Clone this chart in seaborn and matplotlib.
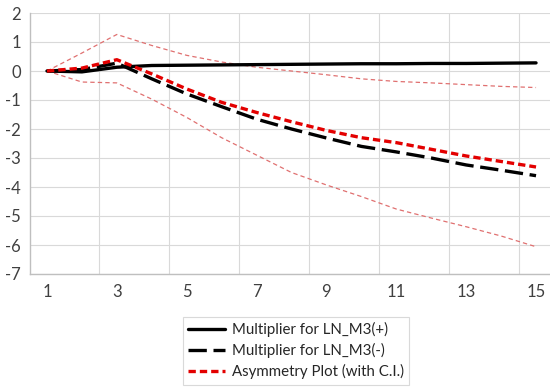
import matplotlib
matplotlib.use("Agg")
import matplotlib.pyplot as plt
import seaborn as sns
import numpy as np
from matplotlib.lines import Line2D

horizon = list(range(1, 16))
mult_pos = [0, -0.03, 0.13, 0.19, 0.20, 0.21, 0.22, 0.23, 0.24, 0.25, 0.25, 0.26, 0.26, 0.27, 0.28]
mult_neg = [0, 0.05, 0.27, -0.27, -0.79, -1.23, -1.66, -2.00, -2.31, -2.60, -2.79, -3.00, -3.24, -3.42, -3.61]
asym = [0, 0.10, 0.39, -0.10, -0.62, -1.08, -1.43, -1.75, -2.05, -2.30, -2.47, -2.70, -2.93, -3.12, -3.31]
ci_upper = [0, 0.62, 1.26, 0.88, 0.54, 0.31, 0.13, 0.0, -0.13, -0.27, -0.36, -0.41, -0.47, -0.53, -0.57]
ci_lower = [0, -0.38, -0.41, -0.97, -1.60, -2.30, -2.90, -3.50, -3.93, -4.33, -4.76, -5.07, -5.37, -5.69, -6.06]
xticks = [1, 3, 5, 7, 9, 11, 13, 15]
yticks = list(range(-7, 3))
labels = ["Multiplier for LN_M3(+)", "Multiplier for LN_M3(-)", "Asymmetry Plot (with C.I.)"]

sns.set_style("white")
plt.rcParams['font.family'] = ['Lato', 'DejaVu Sans']

fig = plt.figure(figsize=(5.5, 3.87), dpi=100)
ax = fig.add_axes([29.5/550, 1-274/387, 524/550, 261/387])

grid_c = "#d9d9d9"
for yv in yticks:
    ax.axhline(yv, color=grid_c, lw=0.8, zorder=0)
for xv in np.arange(2.5, 15.5, 2):
    ax.axvline(xv, color=grid_c, lw=0.8, zorder=0)

ci_color = "#e07070"
sns.lineplot(x=horizon, y=ci_upper, ax=ax, color=ci_color, lw=0.9, zorder=2)
ax.lines[-1].set_dashes([3.5, 2.5])
sns.lineplot(x=horizon, y=ci_lower, ax=ax, color=ci_color, lw=0.9, zorder=2)
ax.lines[-1].set_dashes([3.5, 2.5])
sns.lineplot(x=horizon, y=mult_pos, ax=ax, color="black", lw=2.4, zorder=3)
sns.lineplot(x=horizon, y=mult_neg, ax=ax, color="black", lw=2.4, zorder=3)
ax.lines[-1].set_dashes([5.5, 2])
sns.lineplot(x=horizon, y=asym, ax=ax, color="#e30000", lw=2.4, zorder=4)
ax.lines[-1].set_dashes([2.2, 1.2])

ax.set_xlim(0.5, 15.5)
ax.set_ylim(-7, 2)
ax.set_xticks(xticks)
ax.set_xticklabels([str(v) for v in xticks])
ax.set_yticks(yticks)
ax.set_yticklabels([str(v) for v in yticks])
ax.tick_params(axis='both', labelsize=12, length=0, colors="#404040")
ax.tick_params(axis='x', pad=7)
ax.tick_params(axis='y', pad=6)
for s in ["top", "right"]:
    ax.spines[s].set_visible(False)
for s in ["left", "bottom"]:
    ax.spines[s].set_color("#bfbfbf")
    ax.spines[s].set_linewidth(1.0)
ax.set_xlabel("")
ax.set_ylabel("")

handles = [
    Line2D([], [], color="black", lw=2.4),
    Line2D([], [], color="black", lw=2.4, dashes=[5.5, 2]),
    Line2D([], [], color="#e30000", lw=2.4, dashes=[2.2, 1.2]),
]
leg = fig.legend(handles, labels, loc="upper left", bbox_to_anchor=(183/550, 1-317/387),
                 borderaxespad=0, fontsize=10.8, frameon=True, fancybox=False,
                 handlelength=2.45, handletextpad=0.45, borderpad=0.35,
                 labelspacing=0.4)
leg.get_frame().set_edgecolor("#d0d0d0")
leg.get_frame().set_linewidth(0.8)
for t in leg.get_texts():
    t.set_color("#262626")

fig.savefig("out.png", dpi=100)
